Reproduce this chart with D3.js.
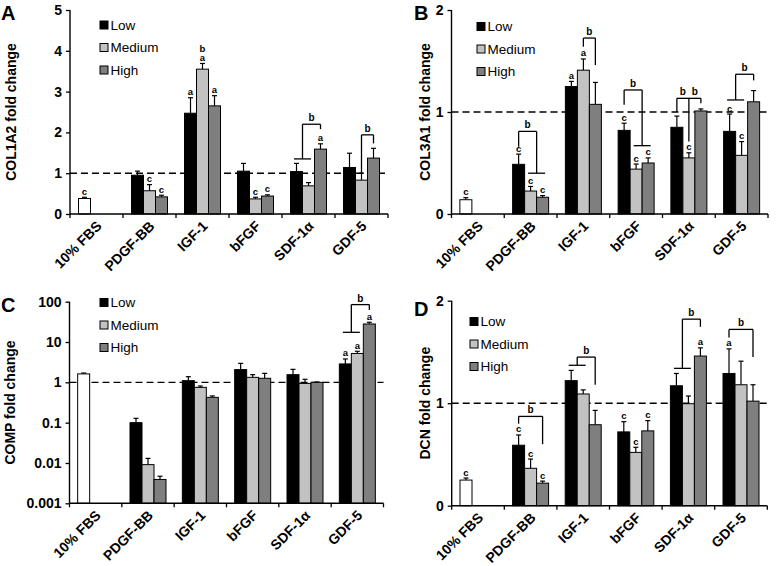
<!DOCTYPE html>
<html><head><meta charset="utf-8">
<script src="https://cdn.jsdelivr.net/npm/d3@7"></script>
<style>
body{margin:0;background:#fff;}
text{font-family:"Liberation Sans",Arial,sans-serif;}
</style>
</head><body>
<svg id="chart" width="780" height="566"></svg>
<script>
// ---------- data ----------
const categories = ["10% FBS","PDGF-BB","IGF-1","bFGF","SDF-1α","GDF-5"];
const seriesNames = ["Low","Medium","High"];
const growthFactors = categories.slice(1);

// Panel A: COL1A2
const col1a2FBS = 0.38, col1a2FBSErr = 0.03, col1a2FBSLetter = "c";
const col1a2Low = [0.95, 2.47, 1.05, 1.04, 1.14];
const col1a2LowErr = [0.10, 0.38, 0.19, 0.20, 0.35];
const col1a2Med = [0.57, 3.55, 0.37, 0.69, 0.83];
const col1a2MedErr = [0.15, 0.14, 0.04, 0.08, 0.17];
const col1a2High = [0.42, 2.65, 0.44, 1.59, 1.37];
const col1a2HighErr = [0.04, 0.25, 0.03, 0.13, 0.24];
const col1a2LowLetters = ["", "a", "", "", ""];
const col1a2MedLetters = ["c", "ba", "c", "", ""];
const col1a2HighLetters = ["c", "a", "c", "a", ""];
const col1a2Brackets = [
  {cat:"SDF-1α", top:2.2, labels:["b"], legs:[{bars:[0,1], bottom:1.35},{bars:[2], bottom:2.08}]},
  {cat:"GDF-5", top:1.94, labels:["b"], legs:[{bars:[1], bottom:0.98},{bars:[2], bottom:1.73}]}
];
const col1a2Ticks = [0,1,2,3,4,5];

// Panel B: COL3A1
const col3a1FBS = 0.14, col3a1FBSErr = 0.02, col3a1FBSLetter = "c";
const col3a1Low = [0.487, 1.25, 0.82, 0.85, 0.81];
const col3a1LowErr = [0.10, 0.05, 0.07, 0.11, 0.17];
const col3a1Med = [0.225, 1.41, 0.44, 0.55, 0.575];
const col3a1MedErr = [0.045, 0.11, 0.05, 0.05, 0.135];
const col3a1High = [0.164, 1.075, 0.50, 1.01, 1.10];
const col3a1HighErr = [0.016, 0.215, 0.05, 0.02, 0.11];
const col3a1LowLetters = ["c", "a", "c", "", "c"];
const col3a1MedLetters = ["c", "a", "c", "c", "c"];
const col3a1HighLetters = ["c", "", "c", "", ""];
const col3a1Brackets = [
  {cat:"PDGF-BB", top:0.81, labels:["b"], legs:[{bars:[0], bottom:0.66},{bars:[1,2], bottom:0.40}]},
  {cat:"IGF-1", top:1.725, labels:["b"], legs:[{bars:[1], bottom:1.64},{bars:[2], bottom:1.46}]},
  {cat:"bFGF", top:1.216, labels:["b"], legs:[{bars:[0], bottom:1.07},{bars:[1,2], bottom:0.67}]},
  {cat:"SDF-1α", top:1.134, labels:["b","b"], legs:[{bars:[0], bottom:1.0},{bars:[1], bottom:0.71},{bars:[2], bottom:1.085}]},
  {cat:"GDF-5", top:1.37, labels:["b"], legs:[{bars:[0,1], bottom:1.118},{bars:[2], bottom:1.31}]}
];
const col3a1Ticks = [0,1,2];

// Panel C: COMP (log scale)
const compFBS = 1.62, compFBSErr = 0.08, compFBSLetter = "";
const compLow = [0.1, 1.1, 2.07, 1.55, 2.86];
const compLowErr = [0.028, 0.28, 0.89, 0.55, 0.94];
const compMed = [0.0091, 0.75, 1.33, 0.94, 5.2];
const compMedErr = [0.0039, 0.06, 0.22, 0.25, 0.7];
const compHigh = [0.0039, 0.425, 1.26, 1.0, 28];
const compHighErr = [0.0008, 0.035, 0.41, 0.02, 2.9];
const compLowLetters = ["", "", "", "", "a"];
const compMedLetters = ["", "", "", "", "a"];
const compHighLetters = ["", "", "", "", "a"];
const compBrackets = [
  {cat:"GDF-5", top:84.7, labels:["b"], legs:[{bars:[0,1], bottom:17.4},{bars:[2], bottom:62.6}]}
];
const compTicks = [0.001, 0.01, 0.1, 1, 10, 100];
const compTickLabels = ["0.001","0.01","0.1","1","10","100"];

// Panel D: DCN
const dcnFBS = 0.25, dcnFBSErr = 0.02, dcnFBSLetter = "c";
const dcnLow = [0.59, 1.22, 0.72, 1.17, 1.29];
const dcnLowErr = [0.10, 0.10, 0.10, 0.12, 0.24];
const dcnMed = [0.365, 1.09, 0.52, 0.995, 1.18];
const dcnMedErr = [0.09, 0.04, 0.05, 0.075, 0.23];
const dcnHigh = [0.22, 0.79, 0.73, 1.46, 1.02];
const dcnHighErr = [0.02, 0.14, 0.10, 0.08, 0.16];
const dcnLowLetters = ["c", "", "c", "", "a"];
const dcnMedLetters = ["c", "", "c", "", ""];
const dcnHighLetters = ["c", "", "c", "a", ""];
const dcnBrackets = [
  {cat:"PDGF-BB", top:0.871, labels:["b"], legs:[{bars:[0], bottom:0.80},{bars:[2], bottom:0.60}]},
  {cat:"IGF-1", top:1.45, labels:["b"], legs:[{bars:[0,1], bottom:1.37},{bars:[2], bottom:1.18}]},
  {cat:"SDF-1α", top:1.82, labels:["b"], legs:[{bars:[0,1], bottom:1.34},{bars:[2], bottom:1.745}]},
  {cat:"GDF-5", top:1.72, labels:["b"], legs:[{bars:[0], bottom:1.64},{bars:[2], bottom:1.45}]}
];
const dcnTicks = [0,1,2];

// ---------- drawing ----------
const svg = d3.select("#chart");
const fills = ["#000000", "#c2c2c2", "#7f7f7f"];
const BW = 12;

function drawPanel(p) {
  const g = svg.append("g");
  const x = d3.scaleBand().domain(categories).range([p.x0, p.x1]).padding(0);
  const y = p.log
    ? d3.scaleLog().domain([0.001, 100]).range([p.yb, p.yt])
    : d3.scaleLinear().domain([0, p.ymax]).range([p.yb, p.yt]);
  const base = p.log ? 0.001 : 0;
  const barX = (cat, i) => x(cat) + x.bandwidth() / 2 + (i - 1.5) * BW;
  const barC = (cat, i) => barX(cat, i) + BW / 2;

  g.append("line").attr("x1", p.x0).attr("x2", p.x1)
    .attr("y1", y(1)).attr("y2", y(1))
    .attr("stroke", "#000").attr("stroke-width", 1.4).attr("stroke-dasharray", "7,4");

  const rows = [];
  rows.push({cat: categories[0], i: 0, v: p.fbs, e: p.fbsErr, fill: "#fff", letters: p.fbsLetter});
  const vals = [p.low, p.med, p.high], errs = [p.lowErr, p.medErr, p.highErr],
        lets = [p.lowL, p.medL, p.highL];
  growthFactors.forEach((cat, k) => {
    for (let i = 0; i < 3; i++) rows.push({cat, i, v: vals[i][k], e: errs[i][k], fill: fills[i], letters: lets[i][k]});
  });

  rows.forEach(r => {
    const cx = barC(r.cat, r.i);
    const yt = y(r.v + r.e);
    g.append("line").attr("x1", cx).attr("x2", cx).attr("y1", y(r.v)).attr("y2", yt)
      .attr("stroke", "#000").attr("stroke-width", 1.2);
    g.append("line").attr("x1", cx - 2.5).attr("x2", cx + 2.5).attr("y1", yt).attr("y2", yt)
      .attr("stroke", "#000").attr("stroke-width", 1.2);
  });
  rows.forEach(r => {
    g.append("rect").attr("x", barX(r.cat, r.i)).attr("width", BW)
      .attr("y", y(r.v)).attr("height", y(base) - y(r.v))
      .attr("fill", r.fill).attr("stroke", "#000").attr("stroke-width", 1);
  });
  rows.forEach(r => {
    if (!r.letters) return;
    const chars = r.letters.split("");
    const yt = y(r.v + r.e);
    chars.reverse().forEach((ch, k) => {
      g.append("text").attr("x", barC(r.cat, r.i)).attr("y", yt - 2.5 - k * 9)
        .attr("text-anchor", "middle").attr("font-size", 9.5).attr("font-weight", "bold").text(ch);
    });
  });

  p.brackets.forEach(b => {
    const legX = b.legs.map(l => d3.mean(l.bars, i => barC(b.cat, i)));
    const yTop = y(b.top);
    g.append("line").attr("x1", legX[0]).attr("x2", legX[legX.length - 1])
      .attr("y1", yTop).attr("y2", yTop).attr("stroke", "#000").attr("stroke-width", 1.3);
    b.legs.forEach((l, k) => {
      const yB = y(l.bottom);
      g.append("line").attr("x1", legX[k]).attr("x2", legX[k]).attr("y1", yTop).attr("y2", yB)
        .attr("stroke", "#000").attr("stroke-width", 1.3);
      if (l.bars.length > 1) {
        g.append("line").attr("x1", legX[k] - 8.5).attr("x2", legX[k] + 8.5).attr("y1", yB).attr("y2", yB)
          .attr("stroke", "#000").attr("stroke-width", 1.3);
      }
    });
    b.labels.forEach((lab, k) => {
      g.append("text").attr("x", (legX[k] + legX[k + 1]) / 2).attr("y", yTop - 3)
        .attr("text-anchor", "middle").attr("font-size", 10).attr("font-weight", "bold").text(lab);
    });
  });

  const yAxis = d3.axisLeft(y).tickValues(p.ticks).tickSize(4).tickPadding(4)
    .tickFormat((d, i) => p.tickLabels ? p.tickLabels[i] : d3.format("d")(d));
  const ya = g.append("g").attr("transform", `translate(${p.x0},0)`).call(yAxis);
  ya.select(".domain").attr("d", `M-0,${p.yt}V${p.yb}`);
  const xa = g.append("g").attr("transform", `translate(0,${p.yb})`)
    .call(d3.axisBottom(x).tickSize(0).tickFormat(""));
  xa.selectAll(".tick").remove();
  xa.select(".domain").attr("d", `M${p.x0},0H${p.x1}`);
  [ya, xa].forEach(a => {
    a.select(".domain").attr("stroke", "#000").attr("stroke-width", 1.4);
    a.selectAll(".tick line").attr("stroke", "#000").attr("stroke-width", 1.3);
    a.selectAll(".tick text").attr("font-size", 14).attr("font-weight", "bold").attr("fill", "#000")
      .attr("font-family", '"Liberation Sans",Arial,sans-serif');
  });
  const bounds = categories.map(c => x(c)).concat([p.x1]);
  xa.selectAll("line.bt").data(bounds).join("line").attr("class", "bt")
    .attr("x1", d => d).attr("x2", d => d).attr("y1", 0).attr("y2", 4)
    .attr("stroke", "#000").attr("stroke-width", 1.3);
  categories.forEach(c => {
    const cx = x(c) + x.bandwidth() / 2 + 6;
    g.append("text").attr("transform", `translate(${cx},${p.yb + 13}) rotate(-45)`)
      .attr("text-anchor", "end").attr("font-size", 14).attr("font-weight", "bold").text(c);
  });

  g.append("text").attr("transform", `translate(${p.titleX},${(p.yt + p.yb) / 2}) rotate(-90)`)
    .attr("text-anchor", "middle").attr("dominant-baseline", "central")
    .attr("font-size", 14).attr("font-weight", "bold").text(p.title);
  g.append("text").attr("x", p.letterX).attr("y", p.letterY).attr("font-size", 20)
    .attr("font-weight", "bold").text(p.letter);

  seriesNames.forEach((s, i) => {
    const ly = p.legY + i * 22.5;
    g.append("rect").attr("x", p.legX).attr("y", ly - 4).attr("width", 8).attr("height", 8)
      .attr("fill", fills[i]).attr("stroke", "#000").attr("stroke-width", 1);
    g.append("text").attr("x", p.legX + 10.5).attr("y", ly).attr("dominant-baseline", "central")
      .attr("font-size", 13.5).text(s);
  });
}

drawPanel({letter:"A", letterX:1, letterY:20, title:"COL1A2 fold change", titleX:11,
  x0:70, x1:388, yt:10, yb:214, ymax:5, ticks:col1a2Ticks,
  fbs:col1a2FBS, fbsErr:col1a2FBSErr, fbsLetter:col1a2FBSLetter,
  low:col1a2Low, lowErr:col1a2LowErr, med:col1a2Med, medErr:col1a2MedErr, high:col1a2High, highErr:col1a2HighErr,
  lowL:col1a2LowLetters, medL:col1a2MedLetters, highL:col1a2HighLetters, brackets:col1a2Brackets,
  legX:100, legY:25});
drawPanel({letter:"B", letterX:414, letterY:20, title:"COL3A1 fold change", titleX:425,
  x0:451.5, x1:768, yt:10, yb:214, ymax:2, ticks:col3a1Ticks,
  fbs:col3a1FBS, fbsErr:col3a1FBSErr, fbsLetter:col3a1FBSLetter,
  low:col3a1Low, lowErr:col3a1LowErr, med:col3a1Med, medErr:col3a1MedErr, high:col3a1High, highErr:col3a1HighErr,
  lowL:col3a1LowLetters, medL:col3a1MedLetters, highL:col3a1HighLetters, brackets:col3a1Brackets,
  legX:477, legY:26.5});
drawPanel({letter:"C", letterX:1, letterY:312, title:"COMP fold change", titleX:10, log:true,
  x0:69.5, x1:383.5, yt:301.7, yb:503.3, ticks:compTicks, tickLabels:compTickLabels,
  fbs:compFBS, fbsErr:compFBSErr, fbsLetter:compFBSLetter,
  low:compLow, lowErr:compLowErr, med:compMed, medErr:compMedErr, high:compHigh, highErr:compHighErr,
  lowL:compLowLetters, medL:compMedLetters, highL:compHighLetters, brackets:compBrackets,
  legX:100, legY:302.5});
drawPanel({letter:"D", letterX:414, letterY:316, title:"DCN fold change", titleX:425,
  x0:451.7, x1:767.3, yt:300.7, yb:505.7, ymax:2, ticks:dcnTicks,
  fbs:dcnFBS, fbsErr:dcnFBSErr, fbsLetter:dcnFBSLetter,
  low:dcnLow, lowErr:dcnLowErr, med:dcnMed, medErr:dcnMedErr, high:dcnHigh, highErr:dcnHighErr,
  lowL:dcnLowLetters, medL:dcnMedLetters, highL:dcnHighLetters, brackets:dcnBrackets,
  legX:470, legY:321.5});
</script>
</body></html>
